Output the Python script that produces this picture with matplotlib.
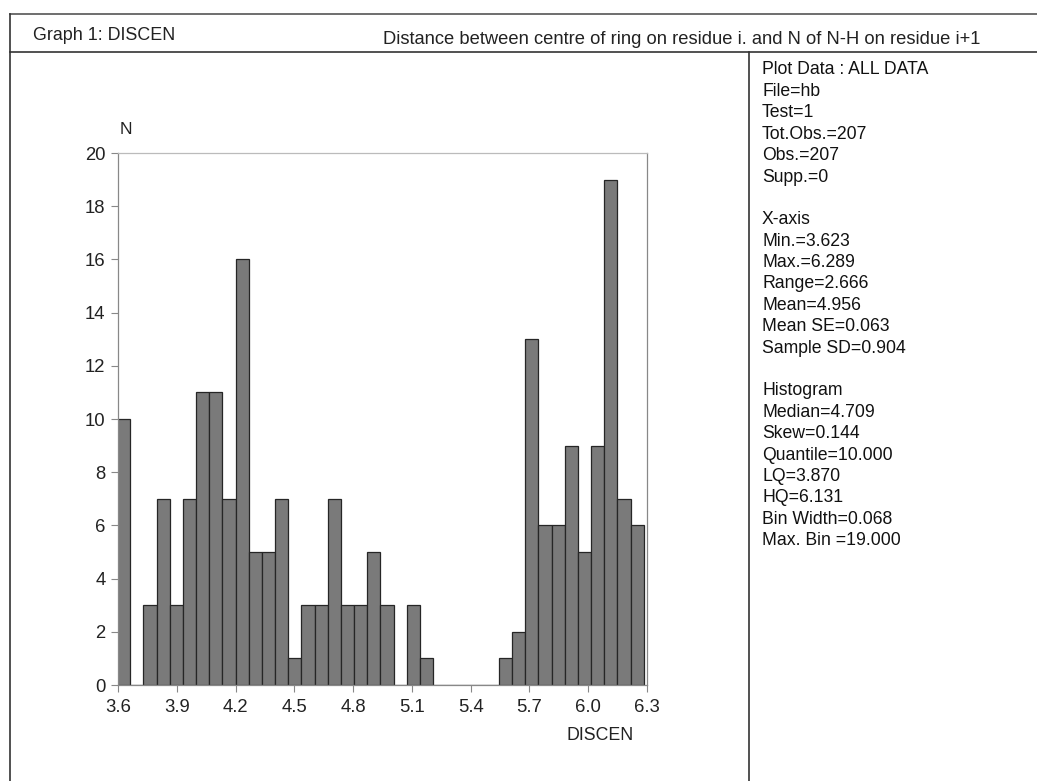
import matplotlib
matplotlib.use("Agg")
import matplotlib.pyplot as plt
import numpy as np
from matplotlib.lines import Line2D

plt.rcParams['font.family'] = ['Liberation Sans', 'DejaVu Sans']

# ---- data ----
bin_start = 3.595
bin_width = 0.0672
counts = [10, 0, 3, 7, 3, 7, 11, 11, 7, 16,
          5, 5, 7, 1, 3, 3, 7, 3, 3, 5,
          3, 0, 3, 1, 0, 0, 0, 0, 0, 1,
          2, 13, 6, 6, 9, 5, 9, 19, 7, 6]
x_ticks = [3.6, 3.9, 4.2, 4.5, 4.8, 5.1, 5.4, 5.7, 6.0, 6.3]
y_ticks = [0, 2, 4, 6, 8, 10, 12, 14, 16, 18, 20]
header_left = "Graph 1: DISCEN"
header_right = "Distance between centre of ring on residue i. and N of N-H on residue i+1"
stats_lines = ["Plot Data : ALL DATA", "File=hb", "Test=1", "Tot.Obs.=207", "Obs.=207",
               "Supp.=0", "", "X-axis", "Min.=3.623", "Max.=6.289", "Range=2.666",
               "Mean=4.956", "Mean SE=0.063", "Sample SD=0.904", "", "Histogram",
               "Median=4.709", "Skew=0.144", "Quantile=10.000", "LQ=3.870", "HQ=6.131",
               "Bin Width=0.068", "Max. Bin =19.000"]

W, H = 1037, 781
fig = plt.figure(figsize=(W / 100, H / 100), dpi=100)
fig.patch.set_facecolor('white')

def fx(px):
    return px / W

def fy(py):
    return 1 - py / H

# frame lines
lc = '#333333'
fig.add_artist(Line2D([fx(10), fx(1037)], [fy(14), fy(14)], color='#555555', lw=1.2))
fig.add_artist(Line2D([fx(10), fx(1037)], [fy(52), fy(52)], color=lc, lw=1.2))
fig.add_artist(Line2D([fx(10), fx(10)], [fy(14), fy(781)], color=lc, lw=1.2))
fig.add_artist(Line2D([fx(749), fx(749)], [fy(52), fy(781)], color=lc, lw=1.2))

fig.text(fx(33), fy(35), header_left, fontsize=12.9, va='center', ha='left', color='#222222')
fig.text(fx(383), fy(40), header_right, fontsize=13.2, va='center', ha='left', color='#222222')

# stats panel
y0 = 70
for i, s in enumerate(stats_lines):
    if s:
        fig.text(fx(762), fy(y0 + i * 21.4), s, fontsize=12.7, va='center', ha='left', color='#111111')

# histogram axes
ax = fig.add_axes([fx(118), fy(685), fx(647) - fx(118), fy(153) - fy(685)])
edges = bin_start + bin_width * np.arange(len(counts) + 1)
ax.bar(edges[:-1], counts, width=bin_width, align='edge',
       color='#7a7a7a', edgecolor='#262626', linewidth=0.9)
ax.set_xlim(3.6, 6.3)
ax.set_ylim(0, 20)
ax.set_xticks(x_ticks)
ax.set_xticklabels([f"{t:.1f}" for t in x_ticks])
ax.set_yticks(y_ticks)
for sp in ax.spines.values():
    sp.set_color('#888888')
    sp.set_linewidth(0.9)
ax.spines['top'].set_color('#bbbbbb')
ax.tick_params(axis='both', labelsize=13.3, colors='#222222', length=5, width=0.8, direction='out')
ax.tick_params(axis='x', color='#888888', pad=5)
ax.tick_params(axis='y', color='#888888', pad=4)

fig.text(fx(126), fy(129), "N", fontsize=12.5, ha='center', va='center', color='#222222')
fig.text(fx(600), fy(735), "DISCEN", fontsize=12.8, ha='center', va='center', color='#222222')

fig.savefig("out.png", dpi=100)
